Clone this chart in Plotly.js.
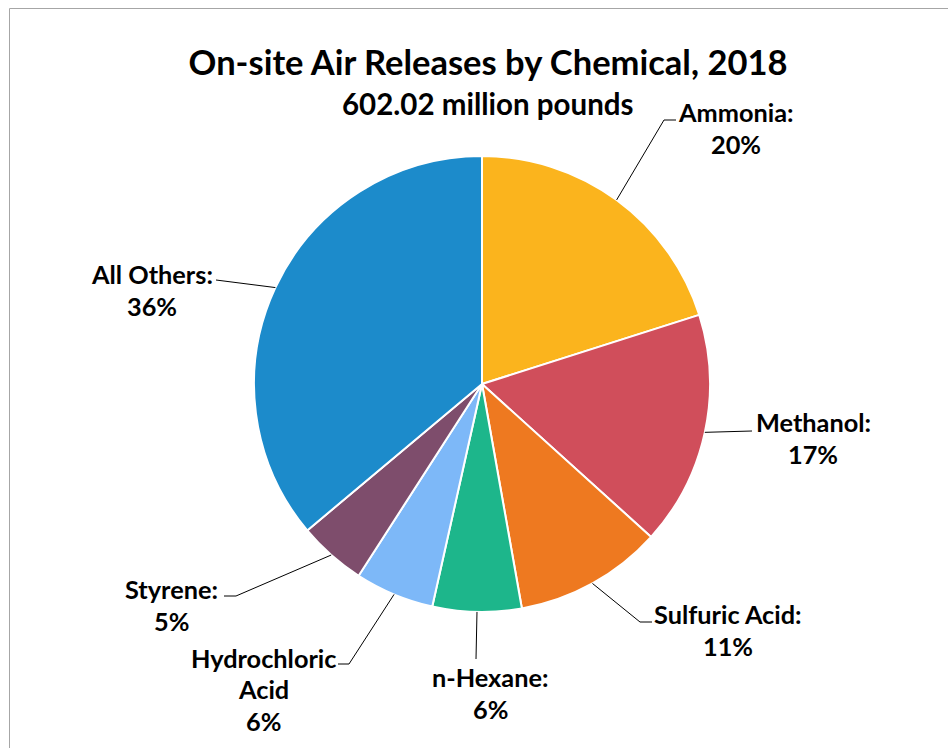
<!DOCTYPE html>
<html>
<head>
<meta charset="utf-8">
<script src="https://cdn.plot.ly/plotly-3.0.1.min.js"></script>
<style>html,body{margin:0;padding:0;background:#fff;}#chart{width:948px;height:748px;}</style>
</head>
<body>
<div id="chart"></div>
<script>
// ---- data ----
const categories = ['Ammonia', 'Methanol', 'Sulfuric Acid', 'n-Hexane', 'Hydrochloric Acid', 'Styrene', 'All Others'];
const shares = [20.1, 16.6, 10.5, 6.3, 5.6, 4.8, 36.1];   // percent of 602.02 million pounds
const labelNames = ['Ammonia:', 'Methanol:', 'Sulfuric Acid:', 'n-Hexane:', 'Hydrochloric<br>Acid', 'Styrene:', 'All Others:'];
const sliceColors = ['#FBB41D', '#D04E5B', '#EE7920', '#1DB68B', '#7DB8F8', '#7E4D6C', '#1C8BCB'];
const titleText = 'On-site Air Releases by Chemical, 2018';
const subtitleText = '602.02 million pounds';

// ---- layout (pixels) ----
const W = 948, H = 748;
const cx = 482, cy = 384, R = 228;
const LINE = 31.5;
const labelPos = [[736,128],[813,438],[728,630],[490,693],[263,689],[171,605],[152,290]];
const elbows = [[[664,120],[676,120]], [[752,431]], [[640,622],[652,622]], [[476,659]], [[349,664],[338,664]], [[236,596],[224,596]], [[216,280]]];

const px = x => x / W, py = y => 1 - y / H;
const total = shares.reduce((a,b)=>a+b,0);
const FONT = 'Lato, "Open Sans", sans-serif';

const annotations = [];
const shapes = [];
let cum = 0;
shares.forEach((v, i) => {
  const mid = (cum + v/2) / total * 2 * Math.PI;
  cum += v;
  const sx = cx + R * Math.sin(mid), sy = cy - R * Math.cos(mid);
  let d = 'M' + px(sx) + ',' + py(sy);
  elbows[i].forEach(p => { d += ' L' + px(p[0]) + ',' + py(p[1]); });
  shapes.push({type:'path', xref:'paper', yref:'paper', path:d, line:{color:'#000', width:1}});
  const pct = Math.round(v / total * 100);
  const lines = (labelNames[i] + '<br>' + pct + '%').split('<br>');
  lines.forEach((t, k) => {
    const yy = labelPos[i][1] + (k - (lines.length - 1) / 2) * LINE;
    annotations.push({
      xref:'paper', yref:'paper', x:px(labelPos[i][0]), y:py(yy),
      xanchor:'center', yanchor:'middle', showarrow:false, align:'center',
      text: t, font:{family:FONT, size:25.3, color:'#000', weight:'bold'}
    });
  });
});
annotations.push({
  xref:'paper', yref:'paper', x:px(488), y:py(103), xanchor:'center', yanchor:'middle',
  showarrow:false, text: subtitleText, font:{family:FONT, size:29.5, color:'#000', weight:'bold'}
});
shapes.push({type:'rect', xref:'paper', yref:'paper', x0:px(9.5), x1:1.2, y0:-0.2, y1:py(8.5),
  line:{color:'#A6A6A6', width:1}, fillcolor:'rgba(0,0,0,0)'});

const trace = {
  type:'pie', values: shares, labels: categories, sort:false, direction:'clockwise', rotation:0,
  marker:{colors: sliceColors, line:{color:'#fff', width:2}},
  textinfo:'none', hoverinfo:'label+percent',
  domain:{x:[px(cx-R), px(cx+R)], y:[py(cy+R), py(cy-R)]}
};

const layout = {
  width:W, height:H, margin:{l:0,r:0,t:0,b:0},
  paper_bgcolor:'#fff', plot_bgcolor:'#fff', showlegend:false,
  title:{text:titleText, x:px(488), xanchor:'center', y:py(63), yanchor:'middle',
    font:{family:FONT, size:34.5, color:'#000', weight:'bold'}},
  annotations, shapes
};
Plotly.newPlot('chart', [trace], layout, {displayModeBar:false, staticPlot:true});
</script>
</body>
</html>
